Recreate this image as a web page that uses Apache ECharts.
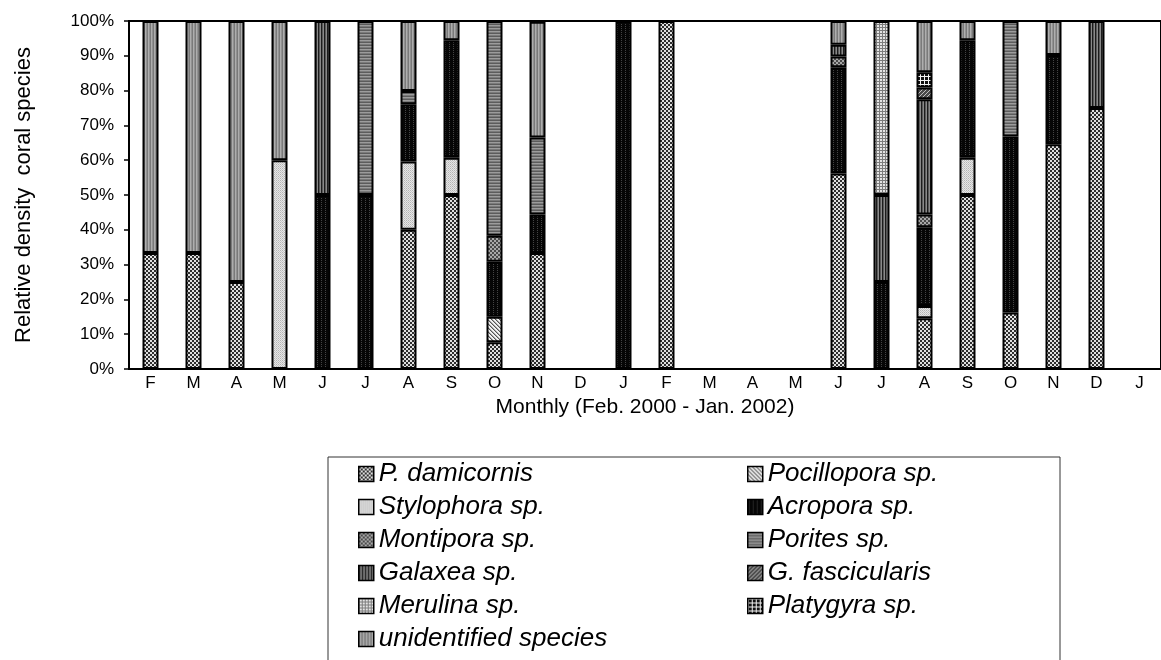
<!DOCTYPE html>
<html>
<head>
<meta charset="utf-8">
<script src="https://cdn.jsdelivr.net/npm/echarts@6/dist/echarts.min.js"></script>
<style>html,body{margin:0;padding:0;background:#fff}#c{width:1161px;height:660px}</style>
</head>
<body>
<div id="c"></div>
<script>
// ---- data ----
const months = ['F','M','A','M','J','J','A','S','O','N','D','J','F','M','A','M','J','J','A','S','O','N','D','J'];
const speciesNames = ['P. damicornis','Pocillopora sp.','Stylophora sp.','Acropora sp.','Montipora sp.','Porites sp.','Galaxea sp.','G. fascicularis','Merulina sp.','Platygyra sp.','unidentified species'];
const pDamicornis   = [33.3,33.3,25,0,0,0,40,50,7.7,33.3,0,0,100,0,0,0,56.2,0,14.6,50,16.2,64.6,75,0];
const pocillopora   = [0,0,0,0,0,0,0,0,7.3,0,0,0,0,0,0,0,0,0,0,0,0,0,0,0];
const stylophora    = [0,0,0,60,0,0,19.6,10.7,0,0,0,0,0,0,0,0,0,0,3.5,10.7,0,0,0,0];
const acropora      = [0,0,0,0,50,50,16.5,33.8,15.8,11.1,0,100,0,0,0,0,30.5,25,22.6,33.8,50.6,25.6,0,0];
const montipora     = [0,0,0,0,0,0,0,0,7.5,0,0,0,0,0,0,0,3.1,0,3.7,0,0,0,0,0];
const porites       = [0,0,0,0,0,50,3.8,0,61.7,22.1,0,0,0,0,0,0,0,0,0,0,33.2,0,0,0];
const galaxea       = [0,0,0,0,50,0,0,0,0,0,0,0,0,0,0,0,3.4,25,33.1,0,0,0,25,0];
const gFascicularis = [0,0,0,0,0,0,0,0,0,0,0,0,0,0,0,0,0,0,3.4,0,0,0,0,0];
const merulina      = [0,0,0,0,0,0,0,0,0,0,0,0,0,0,0,0,0,50,0,0,0,0,0,0];
const platygyra     = [0,0,0,0,0,0,0,0,0,0,0,0,0,0,0,0,0,0,4.4,0,0,0,0,0];
const unidentified  = [66.7,66.7,75,40,0,0,20.1,5.5,0,33.3,0,0,0,0,0,0,6.8,0,14.7,5.5,0,9.8,0,0];
const yTicks = [0,10,20,30,40,50,60,70,80,90,100];

const seriesValues = [pDamicornis,pocillopora,stylophora,acropora,montipora,porites,galaxea,gFascicularis,merulina,platygyra,unidentified];

// ---- pattern fills (style) ----
function pat(w,h,fn){const c=document.createElement('canvas');c.width=w;c.height=h;const g=c.getContext('2d');fn(g);return {image:c,repeat:'repeat'};}
function px(g,x,y,col){g.fillStyle=col;g.fillRect(x,y,1,1);}
const patterns = [
  pat(4,4,g=>{g.fillStyle='#e0e0e0';g.fillRect(0,0,4,4);g.fillStyle='#2e2e2e';g.fillRect(0,0,2,2);g.fillRect(2,2,2,2);}),
  pat(4,4,g=>{g.fillStyle='#f2f2f2';g.fillRect(0,0,4,4);for(let i=0;i<4;i++){px(g,i,i,'#555');px(g,(i+1)%4,i,'#aaa');}}),
  pat(2,2,g=>{g.fillStyle='#e6e6e6';g.fillRect(0,0,2,2);px(g,0,0,'#b4b4b4');px(g,1,1,'#c8c8c8');}),
  pat(4,4,g=>{g.fillStyle='#060606';g.fillRect(0,0,4,4);px(g,1,0,'#444');px(g,1,2,'#444');}),
  pat(4,4,g=>{g.fillStyle='#a8a8a8';g.fillRect(0,0,4,4);g.fillStyle='#4a4a4a';g.fillRect(0,0,2,2);g.fillRect(2,2,2,2);}),
  pat(1,3,g=>{px(g,0,0,'#5c5c5c');px(g,0,1,'#9c9c9c');px(g,0,2,'#7a7a7a');}),
  pat(3,1,g=>{px(g,0,0,'#1c1c1c');px(g,1,0,'#5a5a5a');px(g,2,0,'#8a8a8a');}),
  pat(4,4,g=>{g.fillStyle='#4a4a4a';g.fillRect(0,0,4,4);for(let i=0;i<4;i++){px(g,3-i,i,'#c0c0c0');}}),
  pat(3,3,g=>{g.fillStyle='#e4e4e4';g.fillRect(0,0,3,3);g.fillStyle='#7c7c7c';g.fillRect(0,0,3,1);g.fillRect(0,0,1,3);}),
  pat(4,4,g=>{g.fillStyle='#111';g.fillRect(0,0,4,4);g.fillStyle='#f4f4f4';g.fillRect(0,0,4,1);g.fillRect(0,0,1,4);}),
  pat(3,1,g=>{px(g,0,0,'#7a7a7a');px(g,1,0,'#aeaeae');px(g,2,0,'#929292');})
];

const FONT = '"Liberation Sans", Arial, sans-serif';

const series = speciesNames.map((name,i)=>({
  name, type:'bar', stack:'total', barWidth:16,
  data: seriesValues[i].map(v=> v===0 ? '-' : v),
  itemStyle:{color:patterns[i], borderColor:'#000', borderWidth:2},
  emphasis:{disabled:true}
}));

const legendText = {fontSize:26, fontStyle:'italic', fontFamily:FONT, color:'#000', lineHeight:26};
const col1 = speciesNames.filter((n,i)=>i%2===0);
const col2 = speciesNames.filter((n,i)=>i%2===1);
const legendCommon = {orient:'vertical', top:456, height:204, itemWidth:15, itemHeight:15, itemGap:7, icon:'rect',
  selectedMode:false, textStyle:legendText, itemStyle:{borderColor:'#000', borderWidth:1.5}};

const chart = echarts.init(document.getElementById('c'), null, {renderer:'canvas'});
chart.setOption({
  animation:false,
  backgroundColor:'#fff',
  textStyle:{fontFamily:FONT},
  grid:{left:129, top:21, width:1035, height:348, show:true, borderColor:'#000', borderWidth:2, backgroundColor:'transparent'},
  xAxis:{
    type:'category', data:months,
    axisLine:{lineStyle:{color:'#000', width:2}},
    axisTick:{length:5, lineStyle:{color:'#000', width:1.5}},
    axisLabel:{interval:0, fontSize:17, color:'#000', margin:6, fontFamily:FONT},
    name:'Monthly (Feb. 2000 - Jan. 2002)', nameLocation:'middle', nameGap:26,
    nameTextStyle:{fontSize:21, color:'#000', fontFamily:FONT}
  },
  yAxis:{
    type:'value', min:yTicks[0], max:yTicks[yTicks.length-1], interval:yTicks[1]-yTicks[0],
    axisLine:{show:true, lineStyle:{color:'#000', width:2}},
    axisTick:{show:true, length:5, lineStyle:{color:'#000', width:1.5}},
    splitLine:{show:false},
    axisLabel:{formatter:'{value}%', fontSize:17, color:'#000', margin:15, fontFamily:FONT},
    name:'Relative density  coral species', nameLocation:'middle', nameGap:94,
    nameTextStyle:{fontSize:22, color:'#000', fontFamily:FONT}
  },
  legend:[
    Object.assign({data:col1, left:353}, legendCommon),
    Object.assign({data:col2, left:742}, legendCommon)
  ],
  graphic:[{type:'rect', silent:true, shape:{x:328, y:457, width:732, height:260}, style:{fill:'none', stroke:'#333', lineWidth:1}}],
  series
});
</script>
</body>
</html>
